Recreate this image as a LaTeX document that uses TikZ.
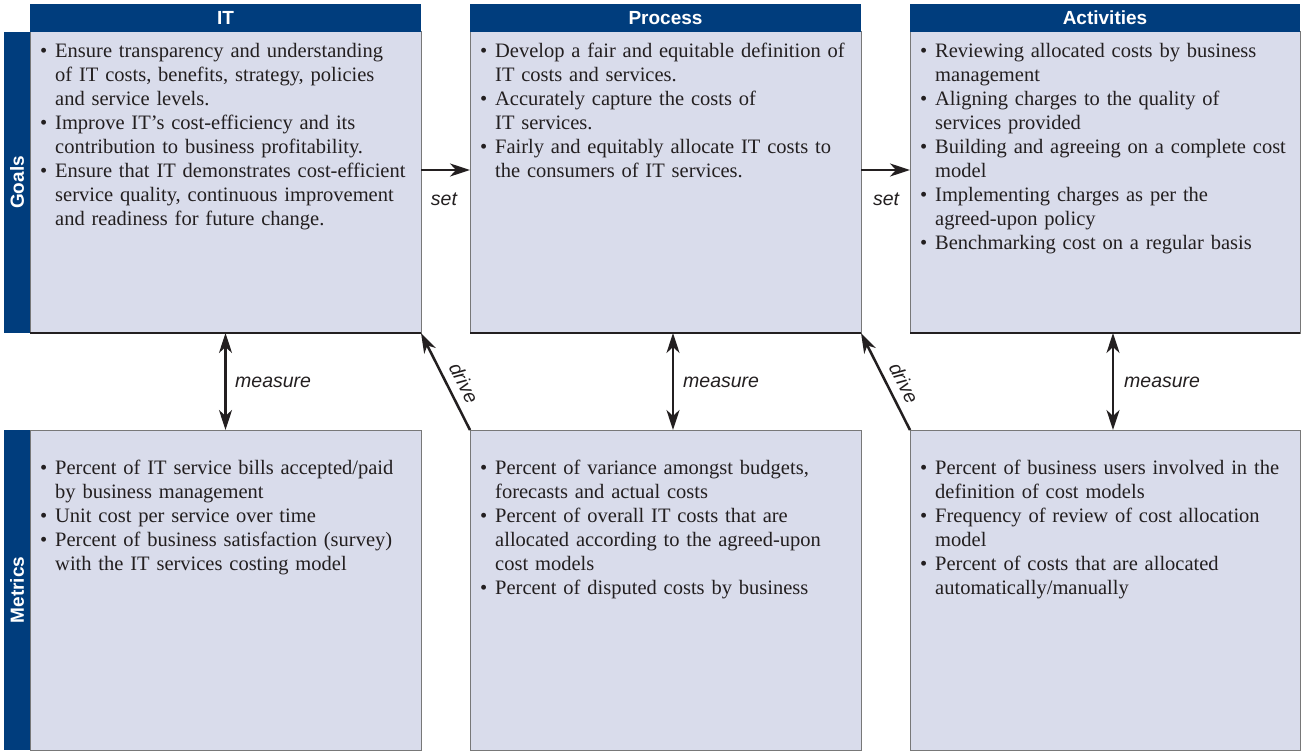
\documentclass[tikz,border=0pt]{standalone}
\usepackage{fontspec}
\setmainfont{Liberation Serif}
\setsansfont{Liberation Sans}
\usetikzlibrary{arrows.meta,calc}
\definecolor{hdr}{RGB}{0,61,125}
\definecolor{boxfill}{RGB}{217,220,235}
\definecolor{boxline}{RGB}{120,120,120}
\definecolor{ink}{RGB}{35,31,32}
\newcommand\myitem[1]{\noindent\hangindent=15pt\hangafter=1\makebox[15pt][l]{\textbullet}#1\par}
\begin{document}
\begin{tikzpicture}[x=1pt,y=-1pt,
  gbox/.style={draw=boxline, fill=boxfill, line width=1pt, anchor=north west, inner sep=0pt, outer sep=0pt, minimum width=#1, minimum height=301pt},
  mbox/.style={draw=boxline, fill=boxfill, line width=1pt, anchor=north west, inner sep=0pt, outer sep=0pt, minimum width=#1, minimum height=320pt},
  hbar/.style={fill=hdr, anchor=north west, inner sep=0pt, outer sep=0pt, minimum width=#1, minimum height=28pt, text=white, font=\sffamily\bfseries\fontsize{19}{19}\selectfont},
  sbar/.style={fill=hdr, anchor=north west, inner sep=0pt, outer sep=0pt, minimum width=26pt, minimum height=#1},
  slabel/.style={rotate=90, text=white, inner sep=0pt, font=\sffamily\bfseries\fontsize{19}{19}\selectfont},
  txt/.style={anchor=base west, inner sep=0pt, text width=385pt, align=left, text=ink, font=\fontsize{20.5}{24}\selectfont},
  lbl/.style={inner sep=0pt, text=ink, font=\sffamily\itshape\fontsize{19.5}{20}\selectfont},
  arr/.style={line width=2.5pt, draw=ink, -{Stealth[length=20pt,width=13pt,inset=6pt]}},
  darr/.style={line width=2.5pt, draw=ink, {Stealth[length=20pt,width=13pt,inset=6pt]}-{Stealth[length=20pt,width=13pt,inset=6pt]}},
  edge/.style={draw=ink, line width=1.3pt}
]
\useasboundingbox (0,0) rectangle (1301,751);
\fill[white] (0,0) rectangle (1301,751);

% goal boxes
\node[gbox=391pt] (itg) at (30,32) {};
\node[gbox=391pt] (prg) at (470,32) {};
\node[gbox=390pt] (acg) at (910,32) {};
% metric boxes
\node[mbox=391pt] (itm) at (30,430) {};
\node[mbox=391pt] (prm) at (470,430) {};
\node[mbox=390pt] (acm) at (910,430) {};
% darker bottom edges of goal boxes
\draw[edge] (itg.south west) -- (itg.south east);
\draw[edge] (prg.south west) -- (prg.south east);
\draw[edge] (acg.south west) -- (acg.south east);

% headers
\node[hbar=391pt] (ith) at (30,4) {IT};
\node[hbar=391pt] (prh) at (470,4) {Process};
\node[hbar=390pt] (ach) at (910,4) {Activities};

% side bars
\node[sbar=301pt] (gbar) at (4,32) {};
\node[sbar=320pt] (mbar) at (4,430) {};
\node[slabel] (glab) at (gbar.center) {Goals};
\node[slabel] (mlab) at (mbar.center) {Metrics};

% texts
\node[txt] (itgt) at (40,58) {%
\myitem{Ensure transparency and understanding\newline of IT costs, benefits, strategy, policies\newline and service levels.}%
\myitem{Improve IT’s cost-efficiency and its\newline contribution to business profitability.}%
\myitem{Ensure that IT demonstrates cost-efficient\newline service quality, continuous improvement\newline and readiness for future change.}};

\node[txt] (prgt) at (480,58) {%
\myitem{Develop a fair and equitable definition of\newline IT costs and services.}%
\myitem{Accurately capture the costs of\newline IT services.}%
\myitem{Fairly and equitably allocate IT costs to\newline the consumers of IT services.}};

\node[txt] (acgt) at (920,58) {%
\myitem{Reviewing allocated costs by business\newline management}%
\myitem{Aligning charges to the quality of\newline services provided}%
\myitem{Building and agreeing on a complete cost\newline model}%
\myitem{Implementing charges as per the\newline agreed-upon policy}%
\myitem{Benchmarking cost on a regular basis}};

\node[txt] (itmt) at (40,474) {%
\myitem{Percent of IT service bills accepted/paid\newline by business management}%
\myitem{Unit cost per service over time}%
\myitem{Percent of business satisfaction (survey)\newline with the IT services costing model}};

\node[txt] (prmt) at (480,474) {%
\myitem{Percent of variance amongst budgets,\newline forecasts and actual costs}%
\myitem{Percent of overall IT costs that are\newline allocated according to the agreed-upon\newline cost models}%
\myitem{Percent of disputed costs by business}};

\node[txt] (acmt) at (920,474) {%
\myitem{Percent of business users involved in the\newline definition of cost models}%
\myitem{Frequency of review of cost allocation\newline model}%
\myitem{Percent of costs that are allocated\newline automatically/manually}};

% set arrows
\draw[arr] ([yshift=12.5pt]itg.east) -- ([yshift=12.5pt]prg.west);
\draw[arr] ([yshift=12.5pt]prg.east) -- ([yshift=12.5pt]acg.west);
\node[lbl] (set1) at (444,199) {set};
\node[lbl] (set2) at (886,199) {set};

% measure arrows
\draw[darr] (itg.south) -- (itm.north);
\draw[darr] ([xshift=7.5pt]prg.south) -- ([xshift=7.5pt]prm.north);
\draw[darr] ([xshift=8pt]acg.south) -- ([xshift=8pt]acm.north);
\node[lbl, anchor=west] (m1) at (235,382) {measure};
\node[lbl, anchor=west] (m2) at (683,382) {measure};
\node[lbl, anchor=west] (m3) at (1124,382) {measure};

% drive arrows
\draw[arr] (prm.north west) -- (itg.south east);
\draw[arr] (acm.north west) -- (prg.south east);
\node[lbl, rotate=-63.2] (d1) at (464,383) {drive};
\node[lbl, rotate=-63.2] (d2) at (904,383) {drive};
\end{tikzpicture}
\end{document}
